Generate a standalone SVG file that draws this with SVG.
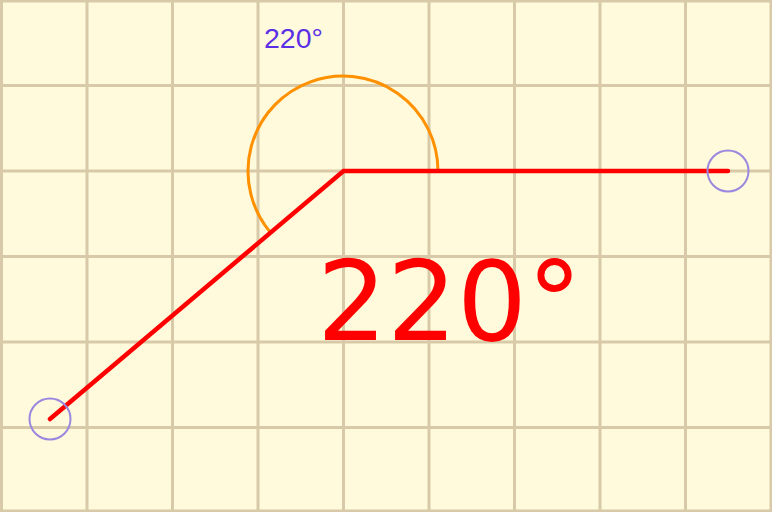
<svg xmlns="http://www.w3.org/2000/svg" width="772" height="512" viewBox="0 0 772 512">
<style>
.grid{stroke:#d8c9a9;stroke-width:3;fill:none}
.ray{stroke:#ff0000;stroke-width:4.5;stroke-linecap:round;fill:none}
.pt{stroke:#9a88e0;stroke-width:2;fill:none}
</style>
<rect width="772" height="512" fill="#fffadb"/>
<g id="grid" class="grid">
<path d="M1.5 0V512M87 0V512M172.5 0V512M258 0V512M343.5 0V512M429 0V512M514.5 0V512M600 0V512M685.5 0V512M771 0V512"/>
<path d="M0 1H772M0 85.5H772M0 171H772M0 256.5H772M0 342H772M0 427.5H772M0 511H772"/>
</g>
<g id="arc">
<path d="M438 171 A95 95 0 1 0 270.2 232.1" stroke="#ff9000" stroke-width="3" fill="none"/>
</g>
<g id="connectors">
<path class="ray" d="M50 419 L343.5 171 L728 171"/>
</g>
<g id="point-left"><circle class="pt" cx="50" cy="419" r="20.5"/></g>
<g id="point-right"><circle class="pt" cx="728" cy="171" r="20.5"/></g>
<g id="label-small"><text x="264" y="47.5" font-family="Liberation Sans, Arial, sans-serif" font-size="28.5" fill="#5b2fe6">220°</text></g>
<g id="label-big"><text x="317" y="340" font-family="DejaVu Sans, sans-serif" font-size="110" fill="#ff0000">220°</text></g>
</svg>
